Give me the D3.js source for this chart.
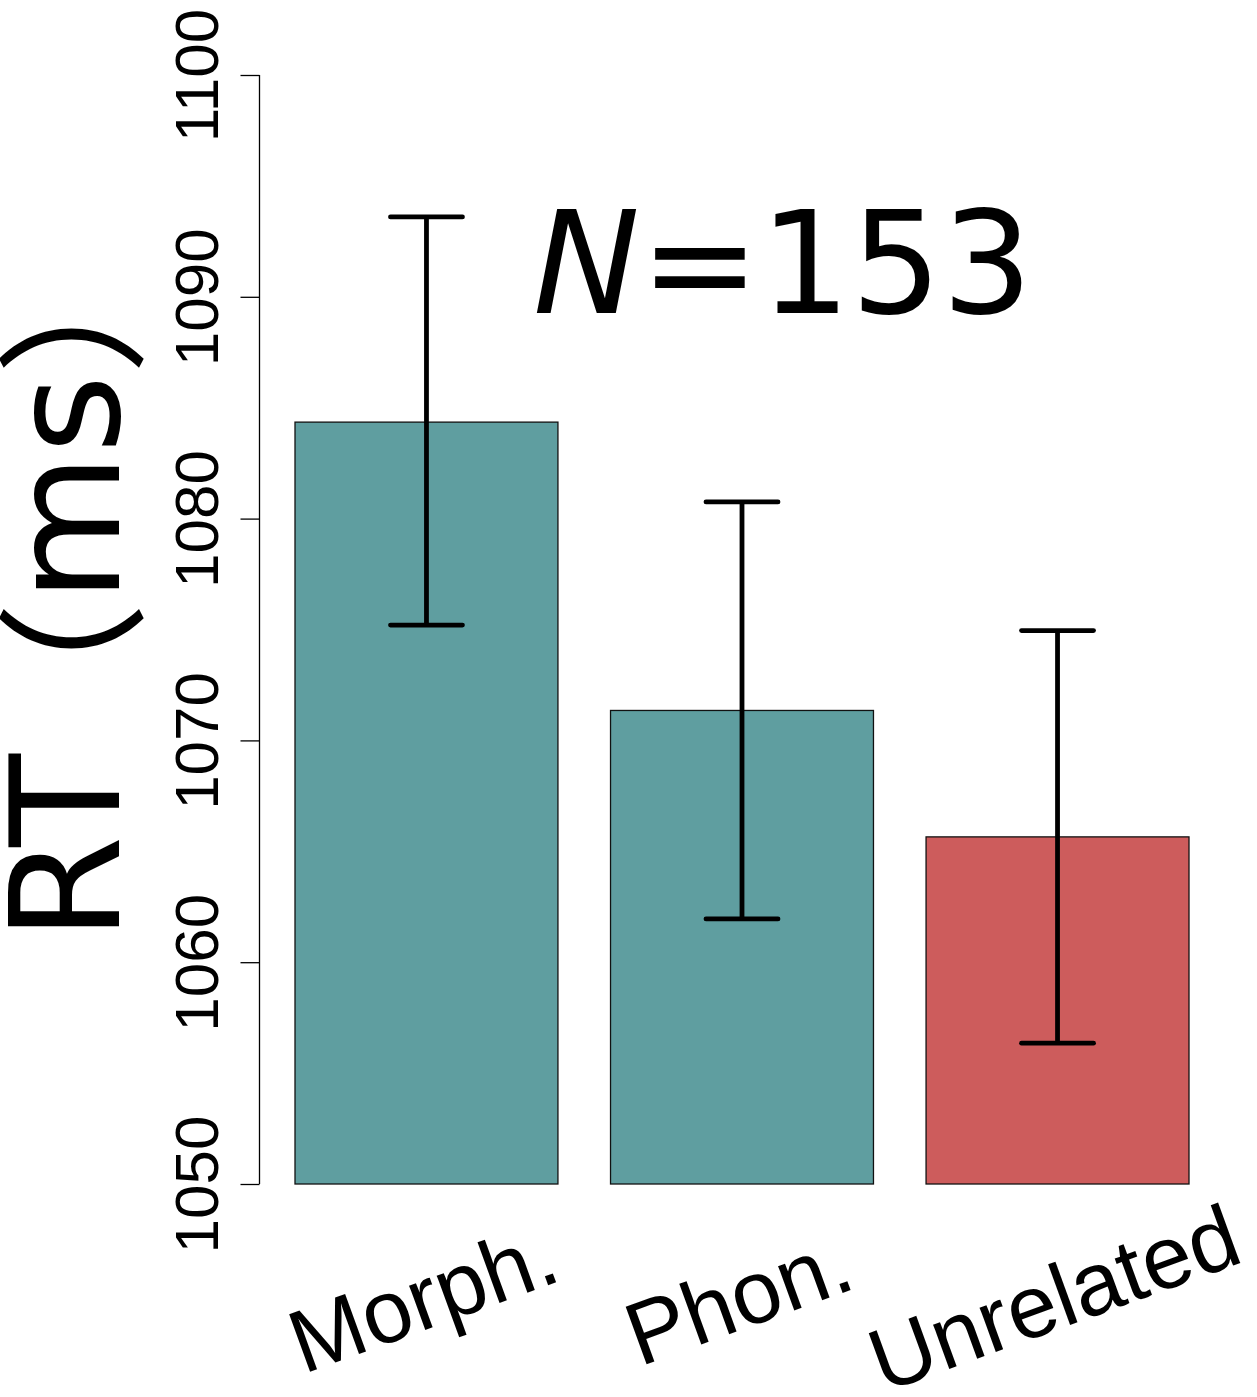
<!DOCTYPE html>
<html>
<head>
<meta charset="utf-8">
<script src="https://cdn.jsdelivr.net/npm/d3@7"></script>
<style>
  html, body { margin: 0; padding: 0; background: #fff; }
  svg { display: block; }
</style>
</head>
<body>
<svg id="chart" width="1257" height="1397"></svg>
<script>
// ---- data ----
const categories = ["Morph.", "Phon.", "Unrelated"];
const means = [1084.35, 1071.35, 1065.65];
const errLow = [1075.2, 1061.95, 1056.35];
const errHigh = [1093.6, 1080.75, 1074.95];
const barColors = ["#5F9EA0", "#5F9EA0", "#CD5C5C"];
const yTicks = [1050, 1060, 1070, 1080, 1090, 1100];
const yLabelParts = ["RT", "（", "ms", "）"];
const nLabelItalic = "N";
const nLabelRest = "=153";

// ---- layout ----
const svg = d3.select("#chart");
const yTop = 75, yBottom = 1184;
const axisX = 259.5;

const y = d3.scaleLinear().domain([1050, 1100]).range([yBottom, yTop]);
const x = d3.scaleBand().domain(categories).range([295, 1189])
  .paddingInner(0.2 / 1.2).paddingOuter(0);

// y axis
const yAxis = d3.axisLeft(y).tickValues(yTicks).tickSize(19).tickPadding(24)
  .tickFormat(d3.format("d"));
const gy = svg.append("g").attr("transform", `translate(${axisX},0)`).call(yAxis);
gy.select(".domain").attr("stroke", "#000").attr("stroke-width", 1.3)
  .attr("d", `M-0,${y(1050)}V${y(1100)}`);
gy.selectAll(".tick line").attr("stroke", "#000").attr("stroke-width", 1.3);
gy.selectAll(".tick text")
  .attr("font-family", "'Liberation Sans', Arial, sans-serif")
  .attr("font-size", 62)
  .attr("fill", "#000")
  .attr("transform", "rotate(-90)")
  .attr("x", 0)
  .attr("y", -42)
  .attr("dy", 0)
  .attr("text-anchor", "middle");

// bars
svg.append("g").selectAll("rect").data(categories).join("rect")
  .attr("x", d => x(d))
  .attr("y", (d, i) => y(means[i]))
  .attr("width", x.bandwidth())
  .attr("height", (d, i) => y(1050) - y(means[i]))
  .attr("fill", (d, i) => barColors[i])
  .attr("stroke", "#111")
  .attr("stroke-width", 1.3);

// error bars
const capHalf = 36;
const eg = svg.append("g").attr("stroke", "#000").attr("stroke-width", 4.8)
  .attr("stroke-linecap", "round").attr("fill", "none");
categories.forEach((c, i) => {
  const cx = x(c) + x.bandwidth() / 2;
  eg.append("line").attr("x1", cx).attr("x2", cx)
    .attr("y1", y(errLow[i])).attr("y2", y(errHigh[i])).attr("stroke-linecap", "butt");
  eg.append("line").attr("x1", cx - capHalf).attr("x2", cx + capHalf)
    .attr("y1", y(errHigh[i])).attr("y2", y(errHigh[i]));
  eg.append("line").attr("x1", cx - capHalf).attr("x2", cx + capHalf)
    .attr("y1", y(errLow[i])).attr("y2", y(errLow[i]));
});

// category labels
svg.append("g").selectAll("text").data(categories).join("text")
  .attr("transform", d => `translate(${x(d) + x.bandwidth() / 2 + 7},1327) rotate(-20)`)
  .attr("text-anchor", "middle")
  .attr("font-family", "'Liberation Sans', Arial, sans-serif")
  .attr("font-size", 89)
  .attr("fill", "#000")
  .text(d => d);

// y label
const yl = svg.append("text")
  .attr("transform", "translate(119,582) rotate(-90)")
  .attr("text-anchor", "middle")
  .attr("font-family", "'DejaVu Sans', 'Noto Sans CJK SC', sans-serif")
  .attr("font-size", 152)
  .attr("fill", "#000");
const shifts = [0, 10, -10, 10];
yl.selectAll("tspan").data(yLabelParts).join("tspan")
  .attr("dy", (d, i) => shifts[i])
  .text(d => d);

// N label
const nt = svg.append("text")
  .attr("x", 533).attr("y", 313)
  .attr("font-family", "'DejaVu Sans', sans-serif")
  .attr("font-size", 143)
  .attr("fill", "#000");
nt.append("tspan").attr("font-style", "italic").text(nLabelItalic);
nt.append("tspan").text(nLabelRest);
</script>
</body>
</html>
